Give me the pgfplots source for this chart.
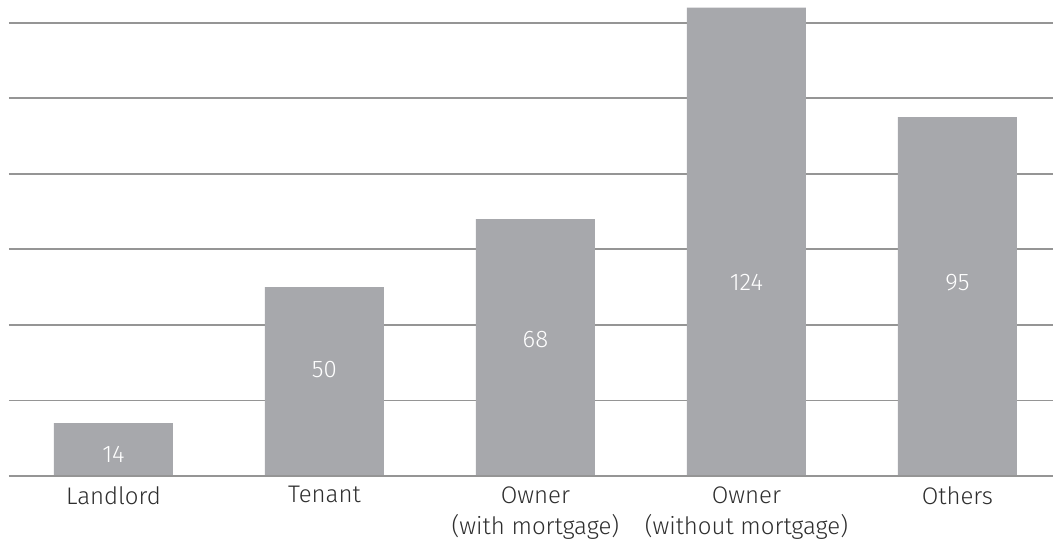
\documentclass[border=0pt]{standalone}
\usepackage{fontspec}
\setmainfont{Fira Sans}[UprightFont=* Light]
\usepackage{pgfplots}
\pgfplotsset{compat=1.18}
\usepackage{pgfplotstable}

\definecolor{barfill}{HTML}{A7A8AC}
\definecolor{gridgray}{HTML}{959595}
\definecolor{labeltext}{HTML}{2E2E2E}

% x: category position, y: count, ly: height at which the value is printed
\pgfplotstableread{
x y ly
0 14 5.8
1 50 28.2
2 68 36.1
3 124 51.2
4 95 51.2
}\housing

\begin{document}
\begin{tikzpicture}
\begin{axis}[
  scale only axis,
  width=522pt, height=238pt,
  xmin=-0.495, xmax=4.453,
  ymin=0, ymax=126,
  axis line style={draw=none},
  axis x line*=bottom,
  ytick={0,20,...,120},
  yticklabels={},
  ymajorgrids,
  major grid style={gridgray, line width=0.9pt},
  ytick style={draw=none},
  xtick={0,1,2,3,4},
  xtick style={draw=none},
  xticklabels={Landlord, Tenant, Owner\\(with mortgage), Owner\\(without mortgage), Others},
  xticklabel style={font=\fontsize{12}{15.5}\selectfont, text=labeltext,
    align=center, anchor=north, inner sep=0pt, yshift=-5pt},
  /pgf/number format/assume math mode=true,
  clip=false,
]
\addplot[ybar, bar width=59.5pt, fill=barfill, draw=none, bar shift=0pt]
  table[x=x, y=y] {\housing};
\addplot[only marks, mark=none,
  nodes near coords, point meta=explicit,
  every node near coord/.style={anchor=center, text=white,
    font=\fontsize{12}{14}\selectfont, inner sep=0pt},
  nodes near coords={\pgfmathprintnumber{\pgfplotspointmeta}}]
  table[x=x, y=ly, meta=y] {\housing};
\draw[gridgray, line width=0.9pt] (axis cs:-0.495,0) -- (axis cs:4.453,0);
\end{axis}
\pgfresetboundingbox
\path (current axis.south west) ++(-4.5pt,-35.5pt) rectangle (current axis.north east);
\end{tikzpicture}
\end{document}
